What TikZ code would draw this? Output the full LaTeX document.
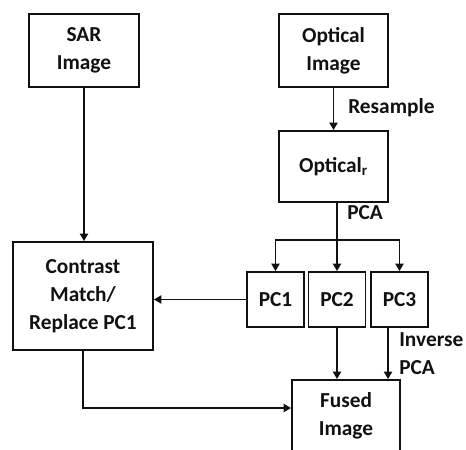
\documentclass[tikz,border=0pt]{standalone}
\usepackage{fontspec}
\setmainfont{Carlito}
\usetikzlibrary{positioning}
\usetikzlibrary{arrows.meta}
\definecolor{ink}{HTML}{111111}
\tikzset{
    blockbox/.style={
        draw=ink,
        line width=1.4pt,
        align=center,
        inner sep=0pt,
        text=ink,
        font=\fontsize{16}{21}\selectfont\bfseries
    },
    pcbox/.style={blockbox, minimum width=42.75pt, minimum height=41.25pt},
    flow/.style={draw=ink, line width=1.4pt, -{Triangle[length=5.5pt, width=6pt]}},
    tag/.style={anchor=west, inner sep=0pt, text=ink, font=\fontsize{16}{21}\selectfont\bfseries}
}

\begin{document}
\begin{tikzpicture}[x=0.75pt, y=-0.75pt]
        \useasboundingbox (0,0) rectangle (466,449);
        \clip (0,0) rectangle (466,449);

        % inputs
        \node[blockbox, minimum width=82.5pt, minimum height=54.75pt] (sar) at (84,50.5) {SAR\\Image};
        \node[blockbox, minimum width=81.75pt, minimum height=54.75pt] (optical) at (333.5,50.5) {Optical\\Image};
        \node[blockbox, minimum width=81.75pt, minimum height=53.25pt] (opticalr) at (333.5,166.5) {Optical\textsubscript{r}};

        % principal components
        \node[pcbox] (pc1) at (275.5,299.5) {PC1};
        \node[pcbox] (pc2) at (337,299.5) {PC2};
        \node[pcbox] (pc3) at (399.5,299.5) {PC3};

        \node[blockbox, minimum width=105pt, minimum height=81pt] (contrast) at (83,296) {Contrast\\Match/\\Replace PC1};
        \node[blockbox, minimum width=81pt, minimum height=54pt] (fused) at (346,416) {Fused\\Image};

        % step labels
        \node[tag] (resample) at (348,108) {Resample};
        \node[tag] (pca) at (347,213) {PCA};
        \node[tag] (inverse) at (399,340) {Inverse};
        \node[tag] (inversepca) at (399,368) {PCA};

        \coordinate (split) at (337,240);

        \draw[flow] (sar.south) -- (sar.south |- contrast.north);
        \draw[flow] (optical.south) -- (opticalr.north);
        \draw[flow] (pc2.north |- opticalr.south) -- (pc2.north);
        \draw[flow] (split) -| (pc1.north);
        \draw[flow] (split) -| (pc3.north);
        \draw[flow] (pc1.west) -- (pc1.west -| contrast.east);
        \draw[flow] (pc2.south) -- (pc2.south |- fused.north);
        \draw[flow] ([xshift=-8.6pt]pc3.south) -- ([xshift=-8.6pt]pc3.south |- fused.north);
        \draw[flow] (contrast.south) |- ([yshift=6pt]fused.west);
\end{tikzpicture}
\end{document}
